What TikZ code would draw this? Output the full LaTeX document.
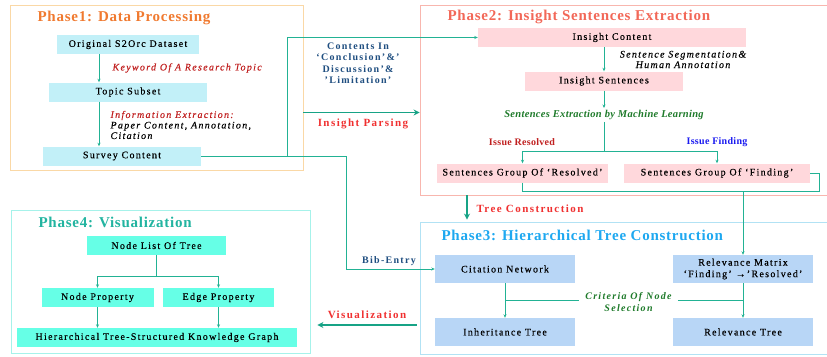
\documentclass[tikz,border=0pt]{standalone}
\usepackage{fontspec}
\setmainfont{Liberation Serif}[LetterSpace=13, UprightFeatures={FakeBold=0.35}, ItalicFeatures={FakeBold=0.25}]
\newfontfamily\titlefont{Liberation Serif}[LetterSpace=5]
\newfontfamily\tightfont{Liberation Serif}[LetterSpace=3]
\usetikzlibrary{arrows.meta}

\definecolor{linecol}{HTML}{22B294}
\definecolor{bigcol}{HTML}{17A386}
\definecolor{oneline}{HTML}{FAD8A6}
\definecolor{twoline}{HTML}{F8B6AE}
\definecolor{threeline}{HTML}{B2E2F4}
\definecolor{fourline}{HTML}{A6F2EA}
\definecolor{onefill}{HTML}{C2F0F8}
\definecolor{twofill}{HTML}{FFD8DC}
\definecolor{threefill}{HTML}{B8D6F6}
\definecolor{fourfill}{HTML}{66FFE6}
\definecolor{onetitle}{HTML}{F07A30}
\definecolor{twotitle}{HTML}{F26858}
\definecolor{threetitle}{HTML}{1EA8F0}
\definecolor{fourtitle}{HTML}{22B4A0}
\definecolor{labred}{HTML}{C02020}
\definecolor{labblue}{HTML}{1F4E80}
\definecolor{findblue}{HTML}{1A1AF0}
\definecolor{labgreen}{HTML}{1E7A2A}
\definecolor{arrred}{HTML}{F03030}

\begin{document}
\begin{tikzpicture}[x=1pt,y=-1pt,
    phase/.style={draw, line width=0.9pt, inner sep=0pt},
    title/.style={anchor=west, font=\titlefont\fontsize{15}{17}\selectfont\bfseries},
    box/.style={inner sep=0pt, minimum height=19pt, font=\fontsize{10}{11.5}\selectfont, align=center},
    line/.style={draw=linecol, line width=0.8pt},
    arr/.style={line, -{Stealth[length=3.5pt,width=3pt]}},
    bigarr/.style={draw=bigcol, line width=1.6pt, -{Stealth[length=6pt,width=6pt]}},
    note/.style={font=\fontsize{10}{10.5}\selectfont\itshape, align=left},
    bold/.style={font=\fontsize{10}{11.5}\selectfont\bfseries, align=center},
    big/.style={font=\fontsize{11}{13}\selectfont\bfseries, text=arrred}]

  \useasboundingbox (0,0) rectangle (827,356);

  % phases
  \node[phase, draw=oneline, minimum width=293pt, minimum height=165pt] (ph1) at (156.5,87.5) {};
  \node[phase, draw=twoline, minimum width=412pt, minimum height=190pt] (ph2) at (626,100) {};
  \node[phase, draw=threeline, minimum width=412pt, minimum height=132pt] (ph3) at (626,288) {};
  \node[phase, draw=fourline, minimum width=299pt, minimum height=143pt] (ph4) at (160.5,281.5) {};

  \node[title, text=onetitle] (t1) at (34,18) {Phase1: Data Processing};
  \node[title, text=twotitle] (t2) at (444,17) {Phase2: Insight Sentences Extraction};
  \node[title, text=threetitle] (t3) at (438,235) {Phase3: Hierarchical Tree Construction};
  \node[title, text=fourtitle] (t4) at (35,222) {Phase4: Visualization};

  % phase 1
  \begin{scope}[every node/.style={box, fill=onefill}]
    \node[minimum width=142pt] (orig) at (128,44.5) {Original S2Orc Dataset};
    \node[minimum width=158pt] (topic) at (128,92) {Topic Subset};
    \node[minimum width=158pt] (survey) at (122,156) {Survey Content};
  \end{scope}
  \coordinate (a1) at (99,0);
  \draw[arr] (orig.south -| a1) -- (topic.north -| a1);
  \draw[arr] (topic.south -| a1) -- (survey.north -| a1);
  \node[note, anchor=west, text=labred] (kw) at (109,68) {Keyword Of A Research Topic};
  \node[note, anchor=west] (ie) at (107,125) {\textcolor{labred}{Information Extraction:}\\Paper Content, Annotation,\\Citation};

  % phase 2
  \begin{scope}[every node/.style={box, fill=twofill}]
    \node[minimum width=268pt] (icont) at (612,37.5) {Insight Content};
    \node[minimum width=158pt] (isent) at (604,81) {Insight Sentences};
    \node[minimum width=171pt] (gres) at (522.5,173) {Sentences Group Of ‘Resolved’};
    \node[minimum width=186pt] (gfind) at (717,173) {Sentences Group Of ‘Finding’};
  \end{scope}
  \draw[arr] (icont.south -| isent.north) -- (isent.north);
  \node[note, align=center] (seg) at (683,59.5) {Sentence Segmentation\&\\Human Annotation};
  \node[font=\tightfont\fontsize{10.5}{12}\selectfont\bfseries\itshape, text=labgreen, inner sep=2pt] (ml) at (604,115) {Sentences Extraction by Machine Learning};
  \draw[arr] (isent.south) -- (ml.north);
  \coordinate (sp) at (604,151);
  \draw[arr] (ml.south) -- (sp) -| (gres.north);
  \draw[arr] (sp) -| (gfind.north);
  \node[font=\tightfont\fontsize{10}{12}\selectfont\bfseries, text=labred] (res) at (522,142) {Issue Resolved};
  \node[font=\tightfont\fontsize{10}{12}\selectfont\bfseries, text=findblue] (find) at (717,142) {Issue Finding};
  \coordinate (lp) at (819,191);
  \draw[line] (gres.south) |- (lp) |- (gfind.east);

  % between phases
  \coordinate (j1) at (287,156);
  \coordinate (bj) at (346,156);
  \draw[arr] (j1) |- (icont.west);
  \node[bold, text=labblue] (cont) at (358,63) {Contents In\\‘Conclusion’\&’\\Discussion’\&\\’Limitation’};
  \coordinate (ip) at (0,112.5);
  \draw[bigarr] (ph1.east |- ip) -- (ph2.west |- ip);
  \node[big] (parse) at (363,124) {Insight Parsing};
  \coordinate (tc) at (467,0);
  \draw[bigarr, shorten >=2pt] (ph2.south -| tc) -- (ph3.north -| tc);
  \node[big, anchor=west] (tree) at (473,208.5) {Tree Construction};
  \node[bold, text=labblue] (bib) at (389,261) {Bib-Entry};
  \coordinate (vz) at (0,325);
  \draw[bigarr, shorten <=3pt, shorten >=7pt] (ph3.west |- vz) -- (ph4.east |- vz);
  \node[big] (vis) at (367,315) {Visualization};

  % phase 3
  \begin{scope}[every node/.style={box, fill=threefill, minimum width=140pt, minimum height=28pt}]
    \node (cit) at (505,269) {Citation Network};
    \node (rmat) at (743,269) {Relevance Matrix\\‘Finding’ →’Resolved’};
    \node (inh) at (505,332) {Inheritance Tree};
    \node (rtree) at (743,332) {Relevance Tree};
  \end{scope}
  \draw[arr] (survey.east) -- (bj) |- (cit.west);
  \draw[arr] (rmat.north |- lp) -- (rmat.north);
  \draw[arr] (cit) -- (inh);
  \draw[arr] (rmat) -- (rtree);
  \node[note, align=center, font=\fontsize{10}{11.5}\selectfont\bfseries\itshape, text=labgreen, inner xsep=6pt] (crit) at (628.5,302) {Criteria Of Node\\Selection};
  \draw[line] (cit.south |- 0,300) -- (crit.west |- 0,300);
  \draw[line] (crit.east |- 0,300) -- (rmat.south |- 0,300);

  % phase 4
  \begin{scope}[every node/.style={box, fill=fourfill}]
    \node[minimum width=139pt] (nlist) at (156.5,245.5) {Node List Of Tree};
    \node[minimum width=112pt] (nprop) at (97.5,297.5) {Node Property};
    \node[minimum width=111pt] (eprop) at (218.5,297.5) {Edge Property};
    \node[minimum width=280pt] (kg) at (157,337.5) {Hierarchical Tree-Structured Knowledge Graph};
  \end{scope}
  \coordinate (sp4) at (156.5,276);
  \draw[arr] (nlist.south) -- (sp4) -| (nprop.north);
  \draw[arr] (sp4) -| (eprop.north);
  \draw[arr] (nprop.south) -- (nprop.south |- kg.north);
  \draw[arr] (eprop.south) -- (eprop.south |- kg.north);

\end{tikzpicture}
\end{document}
